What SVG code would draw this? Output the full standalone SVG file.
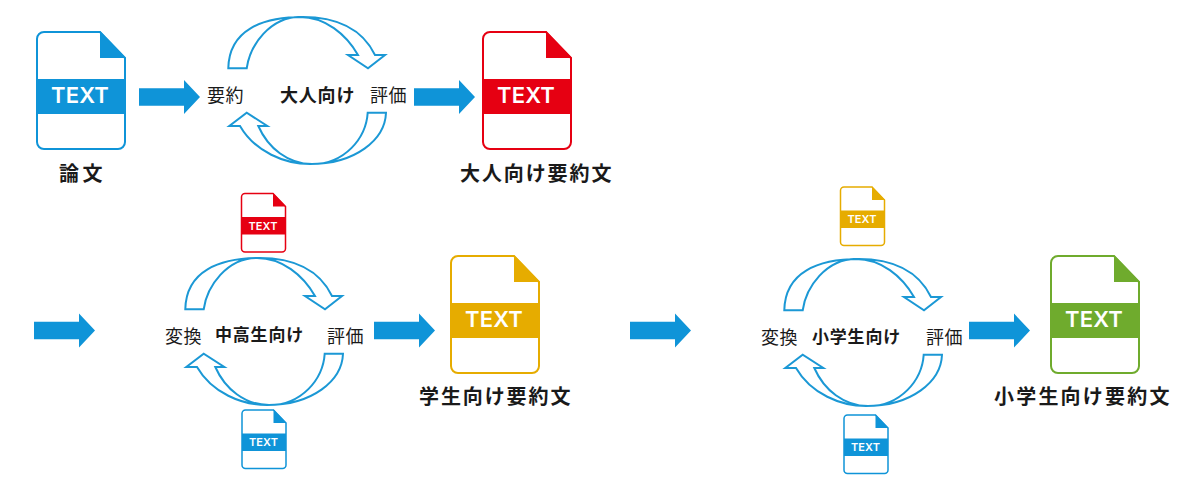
<svg xmlns="http://www.w3.org/2000/svg" xmlns:xlink="http://www.w3.org/1999/xlink" width="1200" height="484" viewBox="0 0 1200 484">
<style>
text{font-family:"Noto Sans CJK JP","Noto Sans",sans-serif;fill:#1a1a1a}
.r{font-size:18px;font-weight:400;letter-spacing:.6px}
.b{font-size:17px;font-weight:700;letter-spacing:.8px}
.t{font-size:20px;font-weight:700;letter-spacing:1.9px}
.d{font-family:Inter,"Liberation Sans",sans-serif;font-weight:600;font-size:22px;letter-spacing:.2px;fill:#fff;text-anchor:middle}
.body{fill:#fff;stroke:currentColor;stroke-width:2}
.fill{fill:currentColor}
.blue{color:#0f94d8}.red{color:#e60012}.yel{color:#e6ac00}.grn{color:#6fab2d}
.loop{fill:#fff;stroke:#1b98d5;stroke-width:2;stroke-linejoin:miter}
.block{fill:#0f94d8}
</style>
<defs>
<path id="docBody" d="M8,1H64L89,27V111a7,7 0 0 1 -7,7H8a7,7 0 0 1 -7,-7V8a7,7 0 0 1 7,-7Z"/>
<path id="docFold" d="M64,0L90,27H64Z"/>
<rect id="docBand" x="1" y="48" width="88" height="35"/>
<path id="up" d="M228.300,68.300C229,30 262,17 303,17C335,17 362,28 375,55L385,55L368,68.300L348,55L358,55C346,34 325,17 300,17C270,17 250,45 246.700,68.300Z"/>
<path id="down" d="M386,112.700C385,140 355,164 310,164C285,164 255,152 240,126L229.300,126L246.700,112.700L267.300,126L258.300,126C268,148 288,164 312,164C345,164 366,138 367.700,112.700Z"/>
<path id="blk" d="M0,-8.700H45V-17L61,0L45,17V8.700H0Z"/>
</defs>
<rect width="1200" height="484" fill="#fff"/>

<g id="connectors">
<use href="#blk" class="block" transform="translate(139,97)"/>
<use href="#blk" class="block" transform="translate(414,97)"/>
<use href="#blk" class="block" transform="translate(34,330.500)"/>
<use href="#blk" class="block" transform="translate(374,330.500)"/>
<use href="#blk" class="block" transform="translate(630,330.500)"/>
<use href="#blk" class="block" transform="translate(969,330.500)"/>
<use href="#up" class="loop"/>
<use href="#down" class="loop"/>
<use href="#up" class="loop" transform="translate(-43,241)"/>
<use href="#down" class="loop" transform="translate(-43,241)"/>
<use href="#up" class="loop" transform="translate(556,242)"/>
<use href="#down" class="loop" transform="translate(556,242)"/>
</g>

<g id="doc-ronbun" class="blue" transform="translate(36,31)"><use href="#docBody" class="body"/><use href="#docFold" class="fill"/><use href="#docBand" class="fill"/><text class="d" x="44" y="72">TEXT</text></g>
<g id="doc-otona" class="red" transform="translate(482,31)"><use href="#docBody" class="body"/><use href="#docFold" class="fill"/><use href="#docBand" class="fill"/><text class="d" x="44" y="72">TEXT</text></g>
<g id="doc-gakusei" class="yel" transform="translate(450,255)"><use href="#docBody" class="body"/><use href="#docFold" class="fill"/><use href="#docBand" class="fill"/><text class="d" x="44" y="72">TEXT</text></g>
<g id="doc-shogaku" class="grn" transform="translate(1050,255)"><use href="#docBody" class="body"/><use href="#docFold" class="fill"/><use href="#docBand" class="fill"/><text class="d" x="44" y="72">TEXT</text></g>
<g id="doc-small-red" class="red" transform="translate(241,193) scale(.5)"><use href="#docBody" class="body" style="stroke-width:3"/><use href="#docFold" class="fill"/><use href="#docBand" class="fill"/><text class="d" x="44" y="73">TEXT</text></g>
<g id="doc-small-blue" class="blue" transform="translate(241.500,409.500) scale(.5)"><use href="#docBody" class="body" style="stroke-width:3"/><use href="#docFold" class="fill"/><use href="#docBand" class="fill"/><text class="d" x="44" y="73">TEXT</text></g>
<g id="doc-small-yellow" class="yel" transform="translate(840,186.500) scale(.5)"><use href="#docBody" class="body" style="stroke-width:3"/><use href="#docFold" class="fill"/><use href="#docBand" class="fill"/><text class="d" x="44" y="73">TEXT</text></g>
<g id="doc-small-blue2" class="blue" transform="translate(843.500,414.500) scale(.5)"><use href="#docBody" class="body" style="stroke-width:3"/><use href="#docFold" class="fill"/><use href="#docBand" class="fill"/><text class="d" x="44" y="73">TEXT</text></g>

<g id="label-ronbun"><text class="t" x="59" y="181" style="letter-spacing:3.500px">論文</text></g>
<g id="label-yoyaku"><text class="r" x="207" y="102">要約</text></g>
<g id="label-otona"><text class="b" style="font-size:18px" x="280" y="102">大人向け</text></g>
<g id="label-hyoka1"><text class="r" x="370" y="102">評価</text></g>
<g id="label-otona-doc"><text class="t" x="460" y="181">大人向け要約文</text></g>
<g id="label-henkan1"><text class="r" x="165" y="343">変換</text></g>
<g id="label-chuko"><text class="b" x="215" y="341">中高生向け</text></g>
<g id="label-hyoka2"><text class="r" x="327" y="343">評価</text></g>
<g id="label-gakusei-doc"><text class="t" x="419" y="404">学生向け要約文</text></g>
<g id="label-henkan2"><text class="r" x="761" y="344">変換</text></g>
<g id="label-shogaku"><text class="b" x="812" y="343">小学生向け</text></g>
<g id="label-hyoka3"><text class="r" x="926" y="344">評価</text></g>
<g id="label-shogaku-doc"><text class="t" style="letter-spacing:2.200px" x="994" y="404">小学生向け要約文</text></g>
</svg>
